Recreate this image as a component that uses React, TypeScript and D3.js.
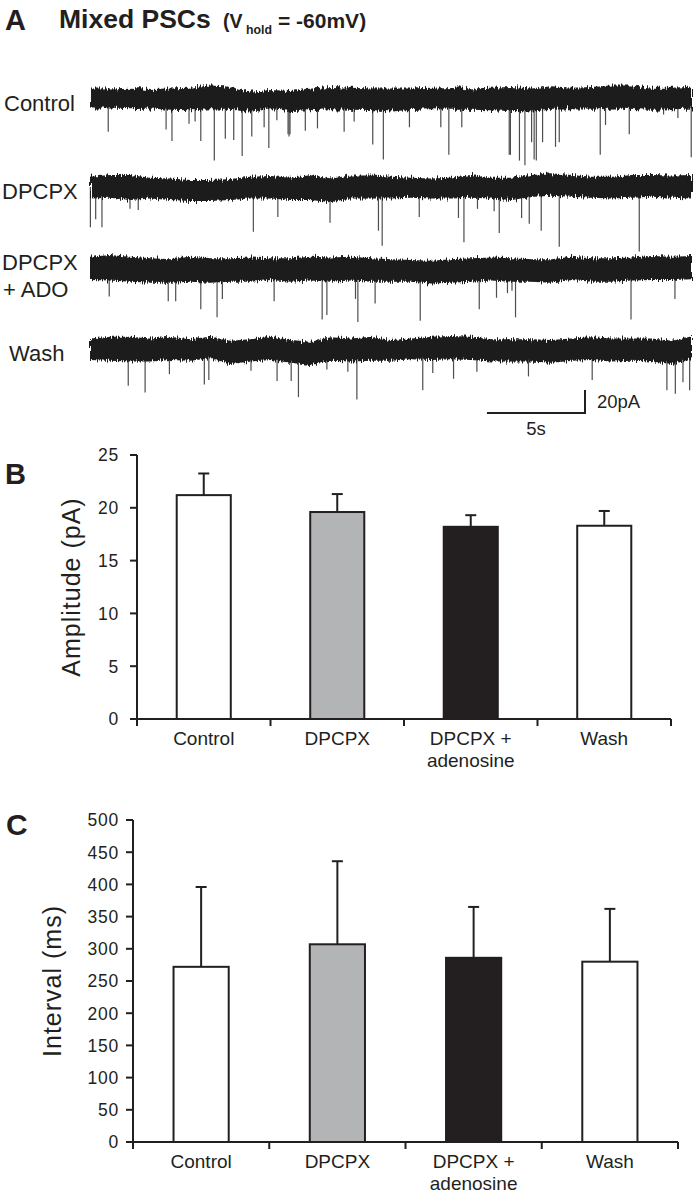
import * as d3 from 'd3';
import { useEffect } from 'react';

const W = 696, H = 1199;
const INK = '#231f20';
const ARIAL = '"Liberation Sans", Arial, Helvetica, sans-serif';

// ---- panel A: example traces ----
const TRACE_NAMES = ['Control', 'DPCPX', 'DPCPX + ADO', 'Wash'];
const TRACE_DURATION = 30.7; // s

// noise band envelope (pA around baseline), one sample per ~1 s
const CONTROL_TOP = [8.8, 8.8, 9.4, 8.3, 8.8, 9.4, 11.2, 10.3, 5.9, 7.4, 6.5, 8.8, 10.0, 9.4, 8.8, 8.8, 8.8, 9.4, 10.0, 8.8, 9.4, 10.0, 8.8, 10.6, 9.4, 10.0, 11.2, 11.2, 9.4, 9.4, 10.3];
const CONTROL_BOTTOM = [-8.6, -8.6, -9.4, -8.6, -9.7, -10.3, -9.4, -10.0, -11.4, -9.4, -10.9, -10.3, -9.4, -9.7, -10.0, -11.4, -10.0, -9.4, -9.7, -9.7, -10.3, -10.9, -11.4, -9.7, -9.4, -9.7, -8.6, -9.1, -9.7, -9.4, -8.6];
const DPCPX_TOP = [9.0, 10.4, 10.4, 8.1, 7.5, 6.1, 6.1, 7.0, 9.0, 9.6, 8.1, 10.4, 7.5, 9.9, 9.9, 9.0, 8.1, 7.5, 8.1, 10.4, 8.1, 8.1, 10.4, 11.9, 10.4, 9.0, 9.0, 10.4, 10.4, 9.9, 10.4];
const DPCPX_BOTTOM = [-9.9, -9.3, -11.3, -9.9, -11.3, -12.2, -12.2, -11.3, -9.9, -9.9, -11.3, -11.3, -13.3, -9.9, -9.9, -9.9, -9.3, -9.9, -9.9, -9.3, -9.9, -11.3, -8.7, -7.5, -8.4, -9.3, -9.9, -9.3, -8.4, -9.3, -9.9];
const ADO_TOP = [10.7, 12.2, 10.7, 9.3, 8.4, 10.7, 9.3, 9.3, 10.1, 9.3, 9.3, 10.7, 10.1, 10.7, 9.3, 8.4, 7.8, 7.2, 8.4, 9.3, 10.1, 9.3, 8.4, 8.4, 10.7, 9.3, 9.3, 10.1, 11.3, 10.7, 11.3];
const ADO_BOTTOM = [-9.6, -10.1, -11.0, -11.9, -11.9, -11.0, -11.9, -11.0, -11.0, -9.6, -11.0, -10.1, -11.0, -10.1, -11.0, -11.0, -11.0, -12.5, -11.9, -11.0, -10.1, -11.0, -11.0, -11.9, -9.6, -11.0, -11.0, -10.1, -9.6, -9.6, -9.0];
const WASH_TOP = [10.1, 11.6, 11.6, 10.1, 11.6, 9.3, 11.6, 8.1, 9.3, 11.6, 8.7, 7.2, 11.0, 10.1, 11.6, 8.7, 10.1, 11.6, 12.2, 11.6, 9.3, 9.3, 9.3, 8.7, 10.1, 11.0, 10.1, 10.1, 10.1, 8.1, 12.2];
const WASH_BOTTOM = [-8.7, -9.3, -10.1, -10.1, -8.7, -9.3, -7.2, -12.2, -10.1, -8.7, -11.0, -13.0, -9.3, -10.1, -9.3, -9.3, -8.1, -8.7, -8.1, -8.7, -10.1, -10.1, -10.1, -11.0, -9.3, -8.7, -10.1, -9.3, -10.1, -12.2, -8.1];

// PSC events: [time (s), amplitude (pA, inward)]
const CONTROL_EVENTS = [[0.93, 29], [3.88, 27], [4.18, 37], [5.05, 22], [5.36, 20], [5.65, 37], [6.34, 54], [6.9, 35], [7.33, 36], [7.76, 50], [8.25, 33], [8.88, 25], [9.12, 43], [9.53, 19], [10.1, 31], [10.15, 33], [10.2, 31], [10.98, 28], [11.6, 26], [12.96, 29], [13.47, 20], [14.42, 40], [14.96, 53], [16.29, 25], [17.89, 25], [18.3, 49], [18.96, 25], [21.38, 49], [21.44, 49], [21.9, 54], [22.18, 58], [22.52, 38], [22.65, 53], [22.76, 54], [23.08, 38], [23.74, 42], [23.93, 38], [26.02, 49], [26.29, 23], [27.5, 31], [29.25, 14], [29.98, 17], [30.66, 51]];
const DPCPX_EVENTS = [[0.02, 35], [0.29, 28], [0.61, 35], [2.04, 19], [2.46, 20], [8.33, 39], [9.58, 26], [12.24, 31], [14.71, 38], [14.9, 51], [16.79, 26], [18.79, 27], [19.07, 48], [19.76, 19], [20.61, 21], [20.87, 40], [22.01, 27], [22.4, 32], [23.01, 38], [23.93, 52], [28.01, 56]];
const ADO_EVENTS = [[0.98, 24], [3.99, 28], [4.37, 28], [5.65, 35], [6.48, 42], [6.75, 26], [9.39, 28], [11.84, 44], [12.08, 40], [13.54, 26], [13.66, 46], [14.54, 30], [16.84, 45], [19.85, 35], [20.73, 25], [21.29, 21], [21.52, 19], [21.7, 42], [27.59, 44], [29.83, 26]];
const WASH_EVENTS = [[1.95, 31], [2.81, 37], [4.05, 21], [5.83, 30], [6.06, 26], [8.21, 18], [9.54, 27], [10.26, 27], [10.63, 41], [12.08, 17], [13.15, 19], [13.61, 43], [16.97, 35], [17.48, 20], [18.54, 25], [19.73, 19], [22.36, 23], [25.61, 26], [29.42, 35], [29.85, 38], [30.24, 28], [30.58, 35]];

const TRACE_TOPS = [CONTROL_TOP, DPCPX_TOP, ADO_TOP, WASH_TOP];
const TRACE_BOTTOMS = [CONTROL_BOTTOM, DPCPX_BOTTOM, ADO_BOTTOM, WASH_BOTTOM];
const TRACE_EVENTS = [CONTROL_EVENTS, DPCPX_EVENTS, ADO_EVENTS, WASH_EVENTS];

const SCALE_BAR_S = 5;
const SCALE_BAR_PA = 20;

// ---- panels B and C ----
const BAR_CATEGORIES = ['Control', 'DPCPX', 'DPCPX +\nadenosine', 'Wash'];
const BAR_FILLS = ['#ffffff', '#b3b4b6', INK, '#ffffff'];
const AMP_MEAN = [21.2, 19.6, 18.2, 18.3];
const AMP_SEM = [2.05, 1.7, 1.1, 1.4];
const AMP_TICKS = [0, 5, 10, 15, 20, 25];
const INT_MEAN = [272, 307, 286, 280];
const INT_SEM = [124, 129, 79, 82];
const INT_TICKS = [0, 50, 100, 150, 200, 250, 300, 350, 400, 450, 500];

// layout
const TRACE_Y = [98.5, 187, 269, 350];
const PX_PER_PA = 1.15;
const traceX = d3.scaleLinear().domain([0, TRACE_DURATION]).range([90, 692]);

function Trace({ i }: { i: number }) {
  const base = TRACE_Y[i];
  const y = d3.scaleLinear().domain([-70, 20]).range([base + 70 * PX_PER_PA, base - 20 * PX_PER_PA]);
  const top = TRACE_TOPS[i];
  const bottom = TRACE_BOTTOMS[i];
  const step = TRACE_DURATION / (top.length - 1);
  const area = d3.area<number>()
    .x((_, j) => traceX(j * step))
    .y0((_, j) => y(bottom[j]))
    .y1((d) => y(d));
  return (
    <g>
      {TRACE_EVENTS[i].map(([t, a], k) => (
        <line key={k} x1={traceX(t)} x2={traceX(t)} y1={y(0)} y2={y(-a)} stroke="#4d4d4d" strokeWidth={1.2} />
      ))}
      <path d={area(top) || ''} fill="#1b1b1b" filter="url(#fuzz)" />
    </g>
  );
}

function BarPanel(props: {
  means: number[]; sems: number[]; ticks: number[];
  left: number; right: number; top: number; bottom: number;
  yLabel: string; yLabelX: number;
}) {
  const { means, sems, ticks, left, right, top, bottom } = props;
  const x = d3.scaleBand<string>().domain(BAR_CATEGORIES).range([left, right]).padding(0);
  const y = d3.scaleLinear().domain([0, d3.max(ticks)!]).range([bottom, top]);
  const bw = x.bandwidth() * 0.405;
  const midY = (top + bottom) / 2;
  return (
    <g>
      {BAR_CATEGORIES.map((c, i) => {
        const cx = x(c)! + x.bandwidth() / 2;
        const yb = y(means[i]);
        const ye = y(means[i] + sems[i]);
        return (
          <g key={c}>
            <line x1={cx} x2={cx} y1={yb} y2={ye} stroke={INK} strokeWidth={2} />
            <line x1={cx - 5.5} x2={cx + 5.5} y1={ye} y2={ye} stroke={INK} strokeWidth={2} />
            <rect x={cx - bw / 2} y={yb} width={bw} height={y(0) - yb} fill={BAR_FILLS[i]} stroke={INK} strokeWidth={2} />
            {c.split('\n').map((line, k) => (
              <text key={k} x={cx} y={bottom + 26 + k * 22} textAnchor="middle" fontFamily={ARIAL} fontSize={19} fill={INK}>{line}</text>
            ))}
          </g>
        );
      })}
      <line x1={left} x2={left} y1={y(0) + 1} y2={top} stroke={INK} strokeWidth={2} />
      <line x1={left} x2={right} y1={y(0)} y2={y(0)} stroke={INK} strokeWidth={2} />
      {[...BAR_CATEGORIES.map((c) => x(c)!), right].map((tx, k) => (
        <line key={k} x1={tx} x2={tx} y1={y(0)} y2={y(0) + 7} stroke={INK} strokeWidth={2} />
      ))}
      {ticks.map((t) => (
        <g key={t}>
          <line x1={left - 7} x2={left} y1={y(t)} y2={y(t)} stroke={INK} strokeWidth={2} />
          <text x={119} y={y(t)} dy="0.36em" textAnchor="end" fontFamily={ARIAL} fontSize={17.5} letterSpacing={0.8} fill={INK}>{t}</text>
        </g>
      ))}
      <text transform={`translate(${props.yLabelX},${midY}) rotate(-90)`} textAnchor="middle" fontFamily={ARIAL} fontSize={25} letterSpacing={1} fill={INK}>{props.yLabel}</text>
    </g>
  );
}

export default function App() {
  useEffect(() => {
    document.body.style.margin = '0';
  }, []);

  const barEnd = 585;
  const barY = 413;
  const sbW = traceX(SCALE_BAR_S) - traceX(0);
  const sbH = SCALE_BAR_PA * PX_PER_PA;

  return (
    <svg width={W} height={H} viewBox={`0 0 ${W} ${H}`} style={{ display: 'block', background: '#fff' }}>
      <defs>
        <filter id="fuzz" x="-1%" y="-80%" width="102%" height="260%">
          <feTurbulence type="fractalNoise" baseFrequency="0.8 0.05" numOctaves={2} seed={4} result="n" />
          <feDisplacementMap in="SourceGraphic" in2="n" scale={9} xChannelSelector="G" yChannelSelector="R" />
        </filter>
      </defs>

      {/* panel A */}
      <text x={5} y={30} fontFamily={ARIAL} fontWeight="bold" fontSize={29} fill={INK}>A</text>
      <text x={59} y={27.5} fontFamily={ARIAL} fontWeight="bold" fontSize={26.5} fill={INK}>Mixed PSCs</text>
      <text x={223} y={28} fontFamily={ARIAL} fontWeight="bold" fontSize={19.5} fill={INK}>(V</text>
      <text x={246} y={34} fontFamily={ARIAL} fontWeight="bold" fontSize={12.3} fill={INK}>hold</text>
      <text x={278} y={28} fontFamily={ARIAL} fontWeight="bold" fontSize={21} fill={INK}>= -60mV)</text>

      {TRACE_NAMES.map((_, i) => <Trace key={i} i={i} />)}

      <text x={4} y={111} fontFamily={ARIAL} fontSize={22} fill={INK}>Control</text>
      <text x={2} y={199} fontFamily={ARIAL} fontSize={22} fill={INK}>DPCPX</text>
      <text x={2} y={270} fontFamily={ARIAL} fontSize={22} fill={INK}>DPCPX</text>
      <text x={3} y={297} fontFamily={ARIAL} fontSize={22} fill={INK}>+ ADO</text>
      <text x={9} y={361} fontFamily={ARIAL} fontSize={22} fill={INK}>Wash</text>

      <path d={`M${barEnd - sbW},${barY}H${barEnd}V${barY - sbH}`} fill="none" stroke={INK} strokeWidth={2} />
      <text x={597} y={408} fontFamily={ARIAL} fontSize={18.5} fill={INK}>{`${SCALE_BAR_PA}pA`}</text>
      <text x={barEnd - sbW / 2} y={435} textAnchor="middle" fontFamily={ARIAL} fontSize={18.5} fill={INK}>{`${SCALE_BAR_S}s`}</text>

      {/* panel B */}
      <text x={5} y={484} fontFamily={ARIAL} fontWeight="bold" fontSize={29} fill={INK}>B</text>
      <BarPanel means={AMP_MEAN} sems={AMP_SEM} ticks={AMP_TICKS} left={137} right={671} top={455} bottom={719}
        yLabel="Amplitude (pA)" yLabelX={80} />

      {/* panel C */}
      <text x={6} y={835} fontFamily={ARIAL} fontWeight="bold" fontSize={30} fill={INK}>C</text>
      <BarPanel means={INT_MEAN} sems={INT_SEM} ticks={INT_TICKS} left={133} right={678} top={820} bottom={1142}
        yLabel="Interval (ms)" yLabelX={61} />
    </svg>
  );
}
